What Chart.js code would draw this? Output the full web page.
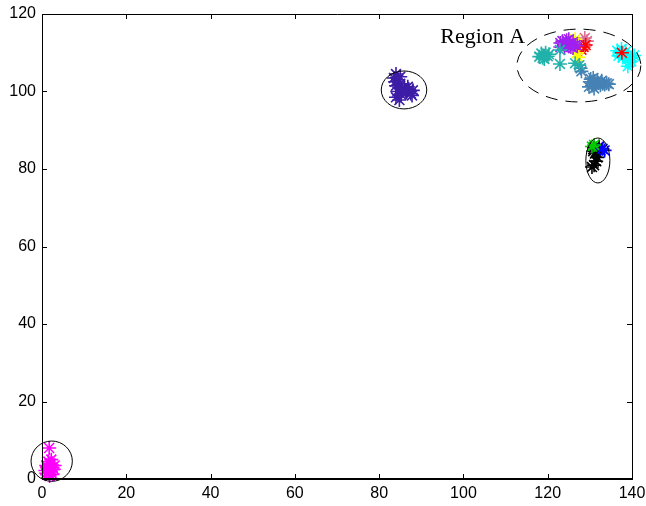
<!DOCTYPE html>
<html>
<head>
<meta charset="utf-8">
<script src="https://cdn.jsdelivr.net/npm/chart.js@4/dist/chart.umd.min.js"></script>
<style>
html,body{margin:0;padding:0;background:#fff;}
canvas{display:block;}
</style>
</head>
<body>
<canvas id="c" width="646" height="506"></canvas>
<script>
// ---- Data ----
const xTicks = [0, 20, 40, 60, 80, 100, 120, 140];
const yTicks = [0, 20, 40, 60, 80, 100, 120];

const magentaX = [1.7, 1.5, 2.0, 1.0, 2.5, 1.5, 2.0, 1.0, 2.5, 1.8, 1.2, 2.2, 3.0, 1.6, 0.8, 2.8];
const magentaY = [8.0, 4.5, 4.0, 3.5, 3.0, 2.5, 2.0, 1.5, 1.2, 0.8, 3.0, 5.0, 3.5, 1.5, 2.2, 2.5];

const indigoX = [84.0, 83.5, 84.5, 85.0, 84.0, 84.3, 84.0, 85.5, 86.0, 87.0, 87.5, 86.5, 88.0, 85.2, 84.8, 83.8, 85.0, 86.8, 87.8, 86.2];
const indigoY = [104.5, 103.5, 103.0, 102.0, 101.5, 100.0, 98.5, 100.5, 101.0, 100.5, 99.5, 99.8, 100.3, 99.2, 97.8, 102.5, 103.8, 101.2, 99.0, 100.2];

const blackX = [131.0, 132.0, 131.5, 132.5, 131.2, 131.8, 131.5, 131.0, 130.5, 132.2, 130.8];
const blackY = [85.5, 85.0, 84.5, 84.8, 84.0, 83.0, 82.0, 81.0, 80.5, 85.8, 84.6];
const greenX = [130.5, 131.0];
const greenY = [85.8, 86.2];
const blueX = [133.0, 133.5];
const blueY = [85.2, 84.8];

const violetX = [123.0, 123.5, 124.0, 124.5, 125.0, 125.5, 126.0, 124.0, 126.5, 127.0, 123.0, 125.0, 126.0];
const violetY = [112.5, 113.0, 112.0, 113.2, 112.3, 111.5, 112.8, 111.2, 112.0, 111.8, 111.5, 113.5, 111.2];
const yellowX = [126.5, 127.0, 127.3, 126.2];
const yellowY = [113.5, 110.0, 108.8, 112.8];
const redX = [128.5, 129.0, 128.0, 137.6];
const redY = [111.5, 112.0, 110.8, 110.0];
const pinkX = [128.8, 129.3];
const pinkY = [113.8, 113.0];
const tealX = [118.0, 118.5, 119.0, 119.5, 120.0, 118.8, 120.3, 122.9, 122.9, 126.5, 127.5, 119.2];
const tealY = [109.0, 109.8, 109.3, 110.0, 109.1, 108.7, 109.6, 107.1, 110.7, 107.3, 106.8, 108.4];
const steelX = [127.8, 128.0, 130.0, 130.5, 131.0, 131.5, 132.0, 132.5, 133.0, 133.5, 134.0, 130.2, 131.0, 129.8, 131.8, 132.8, 130.8, 134.5];
const steelY = [106.0, 105.2, 102.5, 101.5, 102.3, 101.8, 102.2, 101.6, 102.0, 101.8, 102.1, 103.2, 100.8, 101.2, 103.0, 102.8, 103.5, 101.9];
const cyanX = [136.5, 137.0, 137.5, 138.0, 138.5, 139.0, 139.5, 140.0, 139.3, 139.0, 140.5, 137.8, 136.8, 139.8];
const cyanY = [110.5, 110.0, 111.0, 109.5, 110.3, 109.0, 108.5, 108.8, 107.5, 106.5, 109.3, 108.8, 109.2, 107.8];

// Ellipses (centre and radii in data units)
const ellipseCX = [2.3, 85.9, 131.9, 127.4];
const ellipseCY = [4.6, 100.4, 82.2, 106.7];
const ellipseRX = [4.9, 5.4, 2.85, 14.7];
const ellipseRY = [5.2, 4.9, 5.8, 9.4];
const ellipseDashed = [false, false, false, true];

const annotationText = "Region A";
const annotationX = 94.5;
const annotationY = 112.5;

// ---- Build datasets ----
function pts(xs, ys) { return xs.map((x, i) => ({x: x, y: ys[i]})); }
function ds(xs, ys, color) {
  return {
    data: pts(xs, ys),
    pointStyle: 'star',
    pointRadius: 7,
    pointBorderWidth: 1.6,
    borderColor: color,
    backgroundColor: color,
    clip: false
  };
}
const datasets = [
  ds(magentaX, magentaY, '#ff00ff'),
  ds(indigoX, indigoY, '#3d1ca6'),
  ds(tealX, tealY, '#20b2aa'),
  ds(steelX, steelY, '#4682b4'),
  ds(violetX, violetY, '#a020f0'),
  ds(yellowX, yellowY, '#ffff00'),
  ds(redX, redY, '#ff0000'),
  ds(pinkX, pinkY, '#db7093'),
  ds(cyanX, cyanY, '#00ffff'),
  ds(greenX, greenY, '#00cc00'),
  ds(blueX, blueY, '#0000ff'),
  ds(blackX, blackY, '#000000')
];

const framePlugin = {
  id: 'frame',
  afterDatasetsDraw(chart) {
    const ctx = chart.ctx;
    const xs = chart.scales.x, ys = chart.scales.y;
    const a = chart.chartArea;
    ctx.save();
    // ellipses
    for (let i = 0; i < ellipseCX.length; i++) {
      const cx = xs.getPixelForValue(ellipseCX[i]);
      const cy = ys.getPixelForValue(ellipseCY[i]);
      const rx = Math.abs(xs.getPixelForValue(ellipseCX[i] + ellipseRX[i]) - cx);
      const ry = Math.abs(ys.getPixelForValue(ellipseCY[i] + ellipseRY[i]) - cy);
      ctx.beginPath();
      ctx.strokeStyle = '#000';
      ctx.lineWidth = 1;
      ctx.setLineDash(ellipseDashed[i] ? [12, 8] : []);
      ctx.ellipse(cx, cy, rx, ry, 0, 0, Math.PI * 2);
      ctx.stroke();
    }
    ctx.setLineDash([]);
    // frame
    ctx.strokeStyle = '#000';
    ctx.lineWidth = 1;
    ctx.beginPath();
    ctx.moveTo(Math.round(a.left) + 0.5, a.bottom);
    ctx.lineTo(Math.round(a.left) + 0.5, Math.round(a.top) + 0.5);
    ctx.lineTo(Math.round(a.right) + 0.5, Math.round(a.top) + 0.5);
    ctx.lineTo(Math.round(a.right) + 0.5, a.bottom);
    ctx.stroke();
    ctx.lineWidth = 2;
    ctx.beginPath();
    ctx.moveTo(a.left, Math.round(a.bottom));
    ctx.lineTo(a.right + 1, Math.round(a.bottom));
    ctx.stroke();
    // inward ticks
    ctx.lineWidth = 1;
    ctx.beginPath();
    xTicks.forEach(v => {
      const px = Math.round(xs.getPixelForValue(v)) + 0.5;
      ctx.moveTo(px, a.bottom); ctx.lineTo(px, a.bottom - 5);
      ctx.moveTo(px, a.top); ctx.lineTo(px, a.top + 5);
    });
    yTicks.forEach(v => {
      const py = Math.round(ys.getPixelForValue(v)) + 0.5;
      ctx.moveTo(a.left, py); ctx.lineTo(a.left + 5, py);
      ctx.moveTo(a.right, py); ctx.lineTo(a.right - 5, py);
    });
    ctx.stroke();
    // annotation
    ctx.fillStyle = '#000';
    ctx.font = '22px "Liberation Serif", "Times New Roman", serif';
    ctx.textAlign = 'left';
    ctx.textBaseline = 'alphabetic';
    ctx.fillText(annotationText, xs.getPixelForValue(annotationX), ys.getPixelForValue(annotationY));
    ctx.restore();
  }
};

new Chart(document.getElementById('c'), {
  type: 'scatter',
  data: { datasets: datasets },
  options: {
    responsive: false,
    animation: false,
    events: [],
    layout: { padding: { top: 14, right: 14, left: 0, bottom: 0 } },
    plugins: { legend: { display: false }, tooltip: { enabled: false } },
    scales: {
      x: {
        type: 'linear', min: 0, max: 140,
        afterBuildTicks(s) { s.ticks = xTicks.map(v => ({value: v})); },
        afterFit(s) { s.height = 27; s.paddingLeft = 0; s.paddingRight = 0; },
        grid: { display: false, drawTicks: false },
        border: { display: false },
        ticks: { color: '#000', padding: 5, maxRotation: 0, font: { family: '"Liberation Sans", Arial, sans-serif', size: 16 } }
      },
      y: {
        type: 'linear', min: 0, max: 120,
        afterBuildTicks(s) { s.ticks = yTicks.map(v => ({value: v})); },
        afterFit(s) { s.width = 42; s.paddingTop = 0; s.paddingBottom = 0; },
        grid: { display: false, drawTicks: false },
        border: { display: false },
        ticks: { color: '#000', padding: 6, font: { family: '"Liberation Sans", Arial, sans-serif', size: 16 } }
      }
    }
  },
  plugins: [framePlugin]
});
</script>
</body>
</html>
